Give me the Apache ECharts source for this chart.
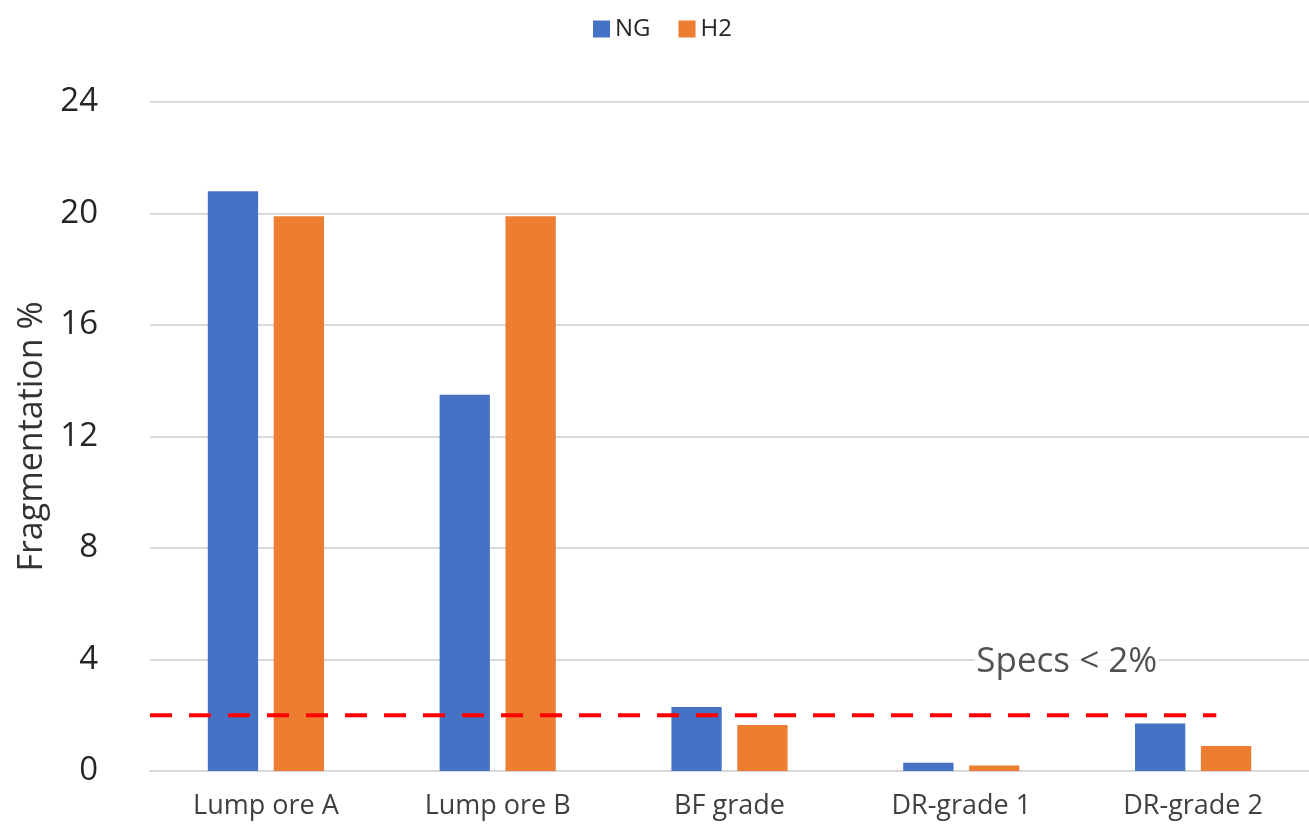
<!DOCTYPE html>
<html>
<head>
<meta charset="utf-8">
<script src="https://cdn.jsdelivr.net/npm/echarts@6/dist/echarts.min.js"></script>
<style>
  html, body { margin: 0; padding: 0; background: #fff; }
  #chart { width: 1309px; height: 833px; }
</style>
</head>
<body>
<div id="chart"></div>
<script>
// Fragmentation of ore samples reduced with natural gas vs hydrogen
const categories = ['Lump ore A', 'Lump ore B', 'BF grade', 'DR-grade 1', 'DR-grade 2'];
const ngValues = [20.8, 13.5, 2.3, 0.3, 1.7];
const h2Values = [19.9, 19.9, 1.65, 0.2, 0.9];
const yTicks = [0, 4, 8, 12, 16, 20, 24];
const specLimit = 2;
const specSpan = [0, 4.6];      // extent of the spec line, in category units
const specLabelAt = [3.955, specLimit];
const specText = 'Specs < 2%';

const FONT = '"Open Sans", sans-serif';
const chart = echarts.init(document.getElementById('chart'));

chart.setOption({
  animation: false,
  textStyle: { fontFamily: FONT },
  legend: {
    top: 12,
    left: 588,
    itemWidth: 17,
    itemHeight: 17,
    itemGap: 28,
    icon: 'rect',
    textStyle: { fontSize: 24, color: '#262626', fontFamily: FONT },
    data: ['NG', 'H2']
  },
  grid: { left: 150, right: -15, top: 102, bottom: 62, containLabel: false },
  xAxis: [
    {
      type: 'category',
      data: categories,
      axisLine: { lineStyle: { color: '#d9d9d9', width: 2 } },
      axisTick: { show: false },
      axisLabel: { fontSize: 27, color: '#404040', margin: 22, fontFamily: FONT }
    },
    {
      type: 'value',
      min: 0,
      max: categories.length,
      show: false
    }
  ],
  yAxis: {
    type: 'value',
    min: yTicks[0],
    max: yTicks[yTicks.length - 1],
    interval: 4,
    name: 'Fragmentation %',
    nameLocation: 'middle',
    nameGap: 98,
    nameTextStyle: { fontSize: 34, color: '#333333', fontFamily: FONT },
    axisLine: { show: false },
    axisTick: { show: false },
    axisLabel: { fontSize: 33, color: '#262626', margin: 52, fontFamily: FONT },
    splitLine: { lineStyle: { color: '#d9d9d9', width: 2 } }
  },
  series: [
    {
      name: 'NG',
      type: 'bar',
      data: ngValues,
      barWidth: '21.7%',
      barGap: '31%',
      itemStyle: { color: '#4472C4' }
    },
    {
      name: 'H2',
      type: 'bar',
      data: h2Values,
      barWidth: '21.7%',
      barGap: '31%',
      itemStyle: { color: '#ED7D31' }
    },
    {
      name: 'spec',
      type: 'line',
      xAxisIndex: 1,
      data: [[specSpan[0], specLimit], [specSpan[1], specLimit]],
      symbol: 'none',
      lineStyle: { color: '#FF0000', width: 4, type: [22, 17] },
      z: 5,
      silent: true
    },
    {
      name: 'specLabel',
      type: 'scatter',
      xAxisIndex: 1,
      data: [specLabelAt],
      symbolSize: 1,
      itemStyle: { color: 'rgba(0,0,0,0)' },
      silent: true,
      z: 6,
      label: {
        show: true,
        formatter: specText,
        position: 'inside',
        offset: [0, -53],
        fontSize: 35,
        color: '#262626',
        fontFamily: FONT,
        backgroundColor: '#ffffff',
        padding: [0, 2]
      }
    }
  ]
});
</script>
</body>
</html>
